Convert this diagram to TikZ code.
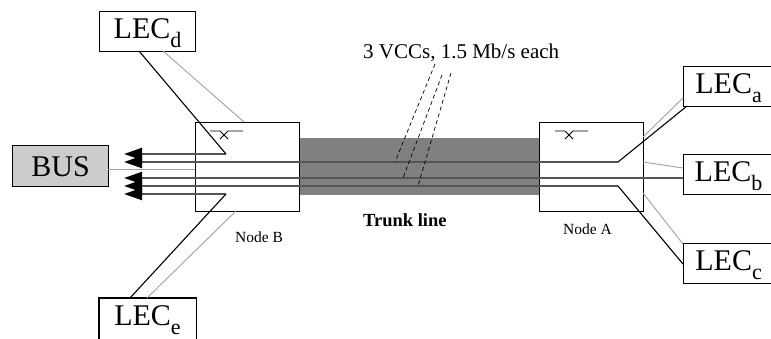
\documentclass[tikz,border=0pt]{standalone}
\usepackage{fontspec}
\setmainfont{Liberation Serif}
\usetikzlibrary{arrows.meta}
\definecolor{trunkgray}{HTML}{808080}
\definecolor{vcgray}{HTML}{555555}
\definecolor{thingray}{HTML}{A0A0A0}
\definecolor{busgray}{HTML}{CCCCCC}
\newcommand{\leclabel}[1]{LEC\raisebox{-9pt}{\fontsize{22}{22}\selectfont #1}}
\begin{document}
\begin{tikzpicture}[x=1pt,y=-1pt,
  lecbox/.style={draw, line width=1.1pt, minimum width=96pt, minimum height=40pt, inner sep=0pt,
    font=\fontsize{30}{30}\selectfont, text height=20pt, text depth=6pt},
  nodebox/.style={draw, line width=1.1pt, minimum width=104pt, minimum height=89pt, inner sep=0pt, anchor=north west},
  vc/.style={draw=vcgray, line width=2pt},
  vcarrow/.style={vc, -{Triangle[length=18pt,width=12pt,color=black]}},
  blk/.style={draw=black, line width=1.1pt},
  thin/.style={draw=thingray, line width=0.9pt},
  switchsym/.style={draw=black, line width=0.9pt},
  dashline/.style={draw=black, line width=0.7pt, dash pattern=on 4pt off 3pt},
  lbl/.style={inner sep=0pt, anchor=base west}]
\useasboundingbox (0,0) rectangle (771,338);

% trunk
\node[fill=trunkgray, minimum width=240pt, minimum height=57pt, inner sep=0pt, anchor=north west] (trunk) at (299,138) {};

% node boxes
\node[nodebox] (nodeB) at (195,122) {};
\node[nodebox] (nodeA) at (539,122) {};

% LEC boxes
\node[lecbox, anchor=north west] (LECd) at (99,11) {\leclabel{d}};
\node[lecbox, anchor=north west, minimum width=90pt] (LECa) at (683,66) {\leclabel{a}};
\node[lecbox, anchor=north west, minimum width=90pt] (LECb) at (683,154) {\leclabel{b}};
\node[lecbox, anchor=north west, minimum width=90pt] (LECc) at (683,243) {\leclabel{c}};
\node[lecbox, draw=none, anchor=north west] (LECe) at (99,298) {\leclabel{e}};
\draw[line width=1.1pt] (LECe.south west) -- (LECe.north west) -- (LECe.north east) -- (LECe.south east);

% BUS
\node[draw, fill=busgray, line width=1.1pt, minimum width=96pt, minimum height=41pt, inner sep=0pt,
  anchor=north west, font=\fontsize{30}{30}\selectfont, text height=20pt, text depth=0pt] (BUS) at (12,145) {BUS};

% coordinates: bends and tips
\coordinate (bendBd) at (226,154);
\coordinate (bendBe) at (226,194);
\coordinate (bendAa) at (618,162);
\coordinate (bendAc) at (618,186);
\coordinate (tip1) at (124,154);
\coordinate (tip2) at (124,162);
\coordinate (tip3) at (124,178);
\coordinate (tip4) at (124,186);
\coordinate (tip5) at (124,194);
\coordinate (LECbIn) at (683,178);

% VC lines with arrows
\draw[vcarrow] (bendBd) -- (tip1);
\draw[vcarrow] (bendAa) -- (tip2);
\draw[vcarrow] (LECbIn) -- (tip3);
\draw[vcarrow] (bendAc) -- (tip4);
\draw[vcarrow] (bendBe) -- (tip5);

% black diagonals
\coordinate (LECdOut) at (139,51);
\coordinate (LECeOut) at (130,298);
\coordinate (LECaOut) at (687,106);
\coordinate (LECcOut) at (683,264);
\draw[blk] (bendBd) -- (LECdOut);
\draw[blk] (bendBe) -- (LECeOut);
\draw[blk] (bendAa) -- (LECaOut);
\draw[blk] (bendAc) -- (LECcOut);

% thin gray links
\coordinate (busOut) at (108,169);
\coordinate (busIn) at (195,169);
\draw[thin] (busOut) -- (busIn);
\coordinate (dG1) at (163,51);  \coordinate (dG2) at (244,122);
\coordinate (eG1) at (147,298); \coordinate (eG2) at (236,211);
\coordinate (aG1) at (683,98);  \coordinate (aG2) at (643,137);
\coordinate (bG1) at (683,168); \coordinate (bG2) at (643,162);
\coordinate (cG1) at (683,244); \coordinate (cG2) at (643,193);
\draw[thin] (dG1) -- (dG2);
\draw[thin] (eG1) -- (eG2);
\draw[thin] (aG1) -- (aG2);
\draw[thin] (bG1) -- (bG2);
\draw[thin] (cG1) -- (cG2);

% switch symbols
\draw[switchsym] (210,131) -- (220,131) -- (228,139);
\draw[switchsym] (220,139) -- (228,131) -- (243,131);
\draw[switchsym] (555,131) -- (565,131) -- (573,139);
\draw[switchsym] (565,139) -- (573,131) -- (588,131);

% labels
\node[lbl, font=\fontsize{21}{21}\selectfont] (vcclabel) at (363,58) {3 VCCs, 1.5 Mb/s each};
\node[lbl, font=\fontsize{18.5}{18.5}\selectfont\bfseries] (trunklabel) at (363,226) {Trunk line};
\node[lbl, font=\fontsize{15.5}{15.5}\selectfont] (labelB) at (235,242) {Node B};
\node[lbl, font=\fontsize{15.5}{15.5}\selectfont] (labelA) at (563,234) {Node A};

% dashed VCC pointers
\coordinate (vd1) at (435,64);  \coordinate (ve1) at (395,162);
\coordinate (vd2) at (442,75);  \coordinate (ve2) at (403,178);
\coordinate (vd3) at (451,73);  \coordinate (ve3) at (418,186);
\draw[dashline] (vd1) -- (ve1);
\draw[dashline] (vd2) -- (ve2);
\draw[dashline] (vd3) -- (ve3);
\end{tikzpicture}
\end{document}
